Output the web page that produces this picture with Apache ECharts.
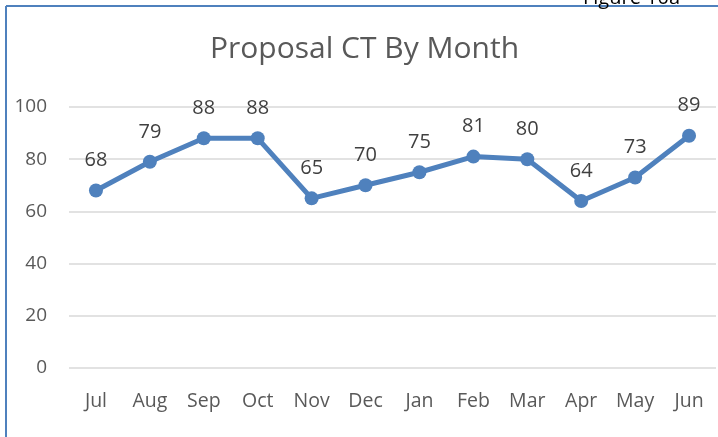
<!DOCTYPE html>
<html>
<head>
<meta charset="utf-8">
<script src="https://cdn.jsdelivr.net/npm/echarts@6/dist/echarts.min.js"></script>
<style>
  html, body { margin: 0; padding: 0; background: #fff; }
  #chart { width: 718px; height: 437px; }
</style>
</head>
<body>
<div id="chart"></div>
<script>
// 月份 / 数值
const months = ["Jul", "Aug", "Sep", "Oct", "Nov", "Dec", "Jan", "Feb", "Mar", "Apr", "May", "Jun"];
const ctValues = [68, 79, 88, 88, 65, 70, 75, 81, 80, 64, 73, 89];
const yTicks = [0, 20, 40, 60, 80, 100];

const font = "'Open Sans', 'Noto Sans', sans-serif";
const chart = echarts.init(document.getElementById("chart"));
chart.setOption({
  animation: false,
  title: {
    text: "Proposal CT By Month",
    left: 205,
    top: 29,
    textStyle: { fontFamily: font, fontSize: 30, fontWeight: "normal", color: "#595959" }
  },
  grid: { left: 69, right: 2, top: 107, bottom: 69 },
  xAxis: {
    type: "category",
    data: months,
    axisLine: { show: false },
    axisTick: { show: false },
    axisLabel: { fontFamily: font, fontSize: 19.5, color: "#595959", margin: 23 }
  },
  yAxis: {
    type: "value",
    min: yTicks[0],
    max: yTicks[yTicks.length - 1],
    interval: 20,
    axisLine: { show: false },
    axisTick: { show: false },
    splitLine: { lineStyle: { color: "#d9d9d9", width: 1.5 } },
    axisLabel: { fontFamily: font, fontSize: 19, color: "#595959", margin: 22 }
  },
  series: [{
    type: "line",
    data: ctValues,
    symbol: "circle",
    symbolSize: 14,
    lineStyle: { color: "#4F81BD", width: 5 },
    itemStyle: { color: "#4F81BD" },
    label: {
      show: true,
      position: "top",
      distance: 13,
      fontFamily: font,
      fontSize: 20,
      color: "#404040"
    }
  }],
  graphic: [
    // 边框
    { type: "line", shape: { x1: 6, y1: 6, x2: 718, y2: 6 }, style: { stroke: "#4F81BD", lineWidth: 2 } },
    { type: "line", shape: { x1: 6, y1: 6, x2: 6, y2: 437 }, style: { stroke: "#4F81BD", lineWidth: 2 } },
    { type: "text", left: 583, top: -12, style: { text: "Figure 10a", font: "20px " + font, fill: "#000" } }
  ]
});
</script>
</body>
</html>
